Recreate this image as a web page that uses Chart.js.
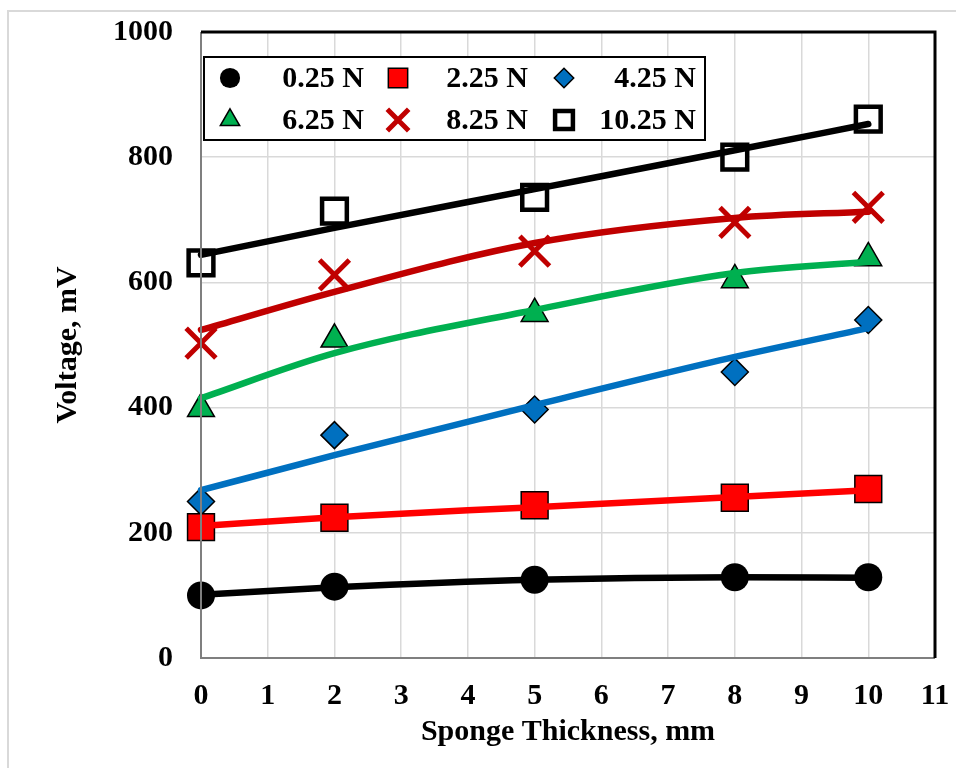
<!DOCTYPE html>
<html>
<head>
<meta charset="utf-8">
<script src="https://cdn.jsdelivr.net/npm/chart.js@4"></script>
<style>
  body { margin: 0; background: #fff; }
  canvas { display: block; }
</style>
</head>
<body>
<canvas id="chart" width="956" height="768"></canvas>
<script>
// sponge thickness, mm
var thickness = [0, 2, 5, 8, 10];

// measured voltage, mV
var v025 = [100, 114, 125, 129, 129];
var v225 = [209, 224, 244, 256, 270];
var v425 = [250, 356, 397, 457, 540];
var v625 = [398, 509, 550, 604, 639];
var v825 = [503, 612, 650, 696, 720];
var v1025 = [631, 714, 736, 800, 861];

// trend line values read at the same thicknesses
var t025 = [101, 113, 125, 129, 128];
var t225 = [211, 225, 241, 257, 268];
var t425 = [268, 324, 404, 481, 527];
var t625 = [415, 487, 556, 615, 633];
var t825 = [524, 585, 663, 703, 713];
var t1025 = [644, 687, 749, 811, 853];

var labels = ['0.25 N', '2.25 N', '4.25 N', '6.25 N', '8.25 N', '10.25 N'];

var FONT = 'Liberation Serif';

function pts(ys) {
  return thickness.map(function (x, i) { return { x: x, y: ys[i] }; });
}

var markers = [
  { vals: v025, style: 'circle', r: 14, bg: '#000000', bc: '#000000', bw: 0 },
  { vals: v225, style: 'rect', r: 19, bg: '#ff0000', bc: '#000000', bw: 1.5 },
  { vals: v425, style: 'rectRot', r: 13.5, bg: '#0070c0', bc: '#000000', bw: 1.5 },
  { vals: v625, style: 'triangle', r: 15.5, bg: '#00b050', bc: '#000000', bw: 1.5 },
  { vals: v825, style: 'crossRot', r: 21, bg: '#c00000', bc: '#c00000', bw: 5 },
  { vals: v1025, style: 'rect', r: 17.5, bg: '#ffffff', bc: '#000000', bw: 4.5 }
];
var trends = [
  { vals: t025, color: '#000000' },
  { vals: t225, color: '#ff0000' },
  { vals: t425, color: '#0070c0' },
  { vals: t625, color: '#00b050' },
  { vals: t825, color: '#c00000' },
  { vals: t1025, color: '#000000' }
];

var datasets = [];
markers.forEach(function (m, i) {
  datasets.push({
    label: labels[i],
    data: pts(m.vals),
    showLine: false,
    clip: false,
    pointStyle: m.style,
    pointRadius: m.r,
    pointHoverRadius: m.r,
    pointBackgroundColor: m.bg,
    pointBorderColor: m.bc,
    pointBorderWidth: m.bw,
    order: 2
  });
});
trends.forEach(function (t, i) {
  datasets.push({
    label: labels[i] + ' trend',
    data: pts(t.vals),
    showLine: true,
    clip: false,
    pointRadius: 0,
    borderColor: t.color,
    borderWidth: 6.5,
    borderCapStyle: 'round',
    cubicInterpolationMode: 'monotone',
    order: 1
  });
});

var framePlugin = {
  id: 'frame',
  beforeDraw: function (chart) {
    var ctx = chart.ctx;
    ctx.save();
    ctx.fillStyle = '#ffffff';
    ctx.fillRect(0, 0, chart.width, chart.height);
    ctx.strokeStyle = '#d9d9d9';
    ctx.lineWidth = 2;
    ctx.beginPath();
    ctx.moveTo(8, chart.height);
    ctx.lineTo(8, 11);
    ctx.lineTo(chart.width, 11);
    ctx.stroke();
    ctx.restore();
  },
  afterDatasetsDraw: function (chart) {
    var ctx = chart.ctx;
    var a = chart.chartArea;
    ctx.save();
    // plot frame
    ctx.strokeStyle = '#7f7f7f';
    ctx.lineWidth = 2;
    ctx.beginPath();
    ctx.moveTo(a.left, a.top);
    ctx.lineTo(a.left, a.bottom);
    ctx.lineTo(a.right, a.bottom);
    ctx.stroke();
    ctx.strokeStyle = '#000000';
    ctx.lineWidth = 3;
    ctx.beginPath();
    ctx.moveTo(a.left, a.top);
    ctx.lineTo(a.right, a.top);
    ctx.lineTo(a.right, a.bottom);
    ctx.stroke();

    // legend box
    var bx = a.left + 3, by = a.top + 25, bw = 501, bh = 83;
    ctx.fillStyle = '#ffffff';
    ctx.fillRect(bx, by, bw, bh);
    ctx.strokeStyle = '#000000';
    ctx.lineWidth = 2;
    ctx.strokeRect(bx, by, bw, bh);

    var colX = [bx + 26, bx + 194, bx + 360];
    var textEnd = [bx + 160, bx + 324, bx + 492];
    var rowY = [by + 21, by + 63];
    ctx.font = 'bold 30px "' + FONT + '"';
    ctx.textAlign = 'right';
    ctx.textBaseline = 'middle';
    markers.forEach(function (m, i) {
      var c = i % 3, r = Math.floor(i / 3);
      ctx.fillStyle = m.bg;
      ctx.strokeStyle = m.bc;
      ctx.lineWidth = m.bw;
      Chart.helpers.drawPoint(ctx, {
        pointStyle: m.style,
        radius: m.r * 0.72,
        rotation: 0,
        borderWidth: m.bw
      }, colX[c], rowY[r]);
      ctx.fillStyle = '#000000';
      ctx.fillText(labels[i], textEnd[c], rowY[r] + 1);
    });
    ctx.restore();
  }
};

function noEdgePadding(s) {
  s.paddingTop = 0;
  s.paddingBottom = 0;
  s.paddingLeft = 0;
  s.paddingRight = 0;
}

var tickFont = { family: FONT, size: 30, weight: 'bold' };

new Chart(document.getElementById('chart'), {
  type: 'scatter',
  data: { datasets: datasets },
  options: {
    responsive: false,
    animation: false,
    layout: { autoPadding: false, padding: { top: 32, right: 21, left: 0, bottom: 0 } },
    plugins: {
      legend: { display: false },
      tooltip: { enabled: false }
    },
    scales: {
      x: {
        type: 'linear',
        min: 0,
        max: 11,
        afterFit: function (s) { s.height = 110; noEdgePadding(s); },
        ticks: { stepSize: 1, color: '#000', font: tickFont, padding: 20 },
        grid: { color: '#d9d9d9', lineWidth: 1.5, drawTicks: false },
        border: { display: false },
        title: {
          display: true,
          text: 'Sponge Thickness, mm',
          color: '#000',
          font: { family: FONT, size: 30, weight: 'bold', lineHeight: 1 },
          padding: { top: 0, bottom: 21 }
        }
      },
      y: {
        type: 'linear',
        min: 0,
        max: 1000,
        afterFit: function (s) { s.width = 201; noEdgePadding(s); },
        ticks: {
          stepSize: 200, color: '#000', font: tickFont, padding: 28,
          callback: function (v) { return String(v); }
        },
        grid: { color: '#d9d9d9', lineWidth: 1.5, drawTicks: false },
        border: { display: false },
        title: {
          display: true,
          text: 'Voltage, mV',
          color: '#000',
          font: { family: FONT, size: 30, weight: 'bold', lineHeight: 1 },
          padding: { top: 53, bottom: 0 }
        }
      }
    }
  },
  plugins: [framePlugin]
});
</script>
</body>
</html>
